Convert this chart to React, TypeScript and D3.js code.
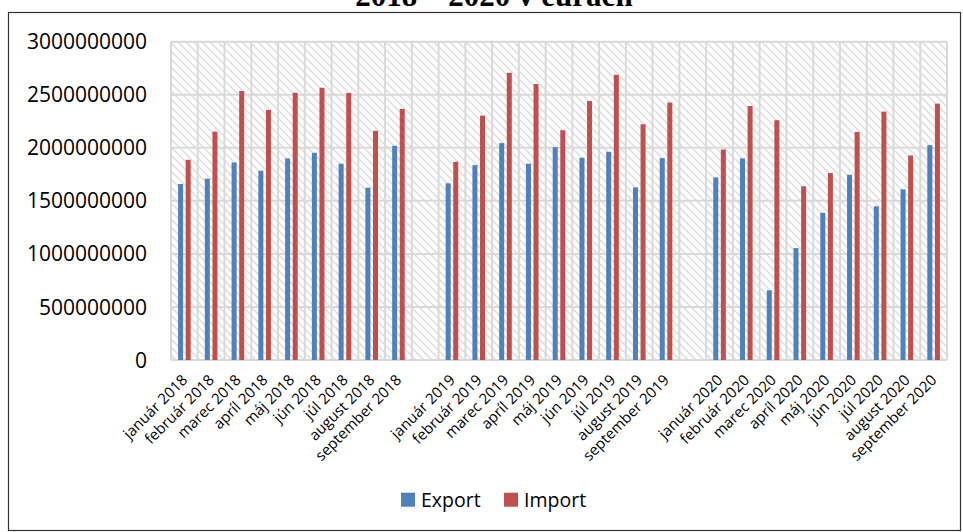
import React from "react";
import * as d3 from "d3";

const categories = [
  "január 2018", "február 2018", "marec 2018", "apríl 2018", "máj 2018", "jún 2018", "júl 2018", "august 2018", "september 2018",
  "",
  "január 2019", "február 2019", "marec 2019", "apríl 2019", "máj 2019", "jún 2019", "júl 2019", "august 2019", "september 2019",
  "",
  "január 2020", "február 2020", "marec 2020", "apríl 2020", "máj 2020", "jún 2020", "júl 2020", "august 2020", "september 2020",
];

const exportValues: (number | null)[] = [
  1659000000, 1709000000, 1862000000, 1784000000, 1900000000, 1953000000, 1850000000, 1624000000, 2019000000,
  null,
  1665000000, 1837000000, 2044000000, 1850000000, 2006000000, 1906000000, 1962000000, 1627000000, 1903000000,
  null,
  1721000000, 1900000000, 657000000, 1055000000, 1387000000, 1746000000, 1449000000, 1608000000, 2025000000,
];

const importValues: (number | null)[] = [
  1887000000, 2153000000, 2535000000, 2357000000, 2519000000, 2566000000, 2516000000, 2160000000, 2366000000,
  null,
  1868000000, 2303000000, 2707000000, 2601000000, 2166000000, 2441000000, 2688000000, 2222000000, 2426000000,
  null,
  1984000000, 2394000000, 2260000000, 1637000000, 1762000000, 2150000000, 2341000000, 1928000000, 2416000000,
];

const yTicks = [0, 500000000, 1000000000, 1500000000, 2000000000, 2500000000, 3000000000];
const seriesNames = ["Export", "Import"];
const titleText = "2018 – 2020 v eurách";

const W = 963;
const H = 532;
const plot = { left: 171, right: 947, top: 41.7, bottom: 360 };
const colors = ["#4F81BD", "#C0504D"];
const grid = "#D9D9D9";
const font = "'Open Sans', sans-serif";

export default function App() {
  const idx = categories.map((_, i) => String(i));
  const x = d3.scaleBand<string>().domain(idx).range([plot.left, plot.right]).padding(0);
  const y = d3.scaleLinear().domain([0, 3000000000]).range([plot.bottom, plot.top]);
  const bw = x.bandwidth();
  const barW = bw * 0.187;
  const gap = bw * 0.097;

  const series = [exportValues, importValues];

  return (
    <svg width={W} height={H} style={{ position: "absolute", left: 0, top: 0, background: "#fff" }}>
      <defs>
        <pattern id="hatch" patternUnits="userSpaceOnUse" width={8} height={8}>
          <rect width={8} height={8} fill="#ffffff" />
          <path d="M-2,-2 L10,10 M-2,6 L2,10 M6,-2 L10,2" stroke="#E2E2E2" strokeWidth={1.8} />
        </pattern>
      </defs>
      <rect x={0} y={0} width={W} height={H} fill="#fff" />
      <text x={494} y={6} textAnchor="middle" fontFamily="'Liberation Serif', serif" fontWeight="bold" fontSize={31} fill="#000">
        {titleText}
      </text>
      <rect x={8.5} y={12.5} width={952} height={518} fill="none" stroke="#333" strokeWidth={1.2} />

      <rect x={plot.left} y={plot.top} width={plot.right - plot.left} height={plot.bottom - plot.top} fill="url(#hatch)" />

      {yTicks.map((t) => (
        <line key={"h" + t} x1={plot.left} x2={plot.right} y1={y(t)} y2={y(t)} stroke={grid} strokeWidth={2} />
      ))}
      {idx.concat(["end"]).map((k, i) => {
        const xx = i < idx.length ? (x(k) as number) : plot.right;
        return <line key={"v" + i} x1={xx} x2={xx} y1={plot.top} y2={plot.bottom} stroke={grid} strokeWidth={2} />;
      })}

      {yTicks.map((t) => (
        <text key={"yl" + t} x={147} y={y(t)} dy="0.36em" textAnchor="end" fontFamily={font} fontSize={21} fill="#000">
          {String(t)}
        </text>
      ))}

      {series.map((vals, s) =>
        vals.map((v, i) => {
          if (v == null) return null;
          const c = (x(idx[i]) as number) + bw / 2;
          const bx = s === 0 ? c - gap / 2 - barW : c + gap / 2;
          return (
            <rect key={s + "-" + i} x={bx} y={y(v)} width={barW} height={y(0) - y(v)} fill={colors[s]} />
          );
        })
      )}

      {categories.map((lab, i) => {
        if (!lab) return null;
        const c = (x(idx[i]) as number) + bw / 2;
        const px = c + 4;
        const py = 381;
        return (
          <text key={"xl" + i} x={px} y={py} textAnchor="end" transform={`rotate(-45 ${px} ${py})`} fontFamily={font} fontSize={15} fill="#000">
            {lab}
          </text>
        );
      })}

      {seriesNames.map((n, i) => {
        const lx = [401, 504][i];
        return (
          <g key={n}>
            <rect x={lx} y={492.7} width={14} height={14} fill={colors[i]} />
            <text x={lx + 20} y={506.5} fontFamily={font} fontSize={19.5} fill="#000">
              {n}
            </text>
          </g>
        );
      })}
    </svg>
  );
}
